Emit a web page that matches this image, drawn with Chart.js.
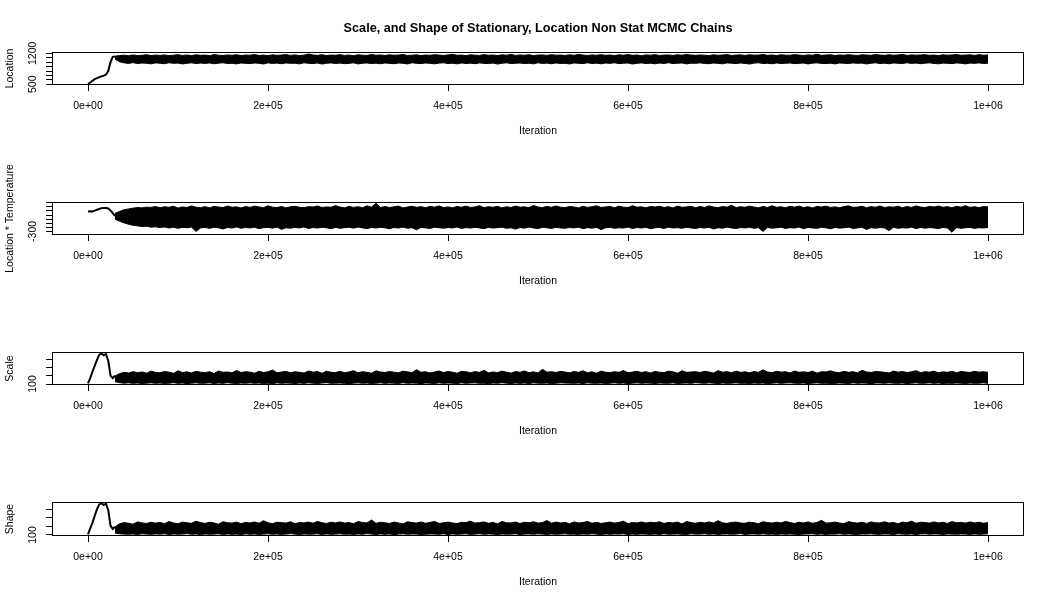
<!DOCTYPE html>
<html><head><meta charset="utf-8">
<script src="https://cdn.jsdelivr.net/npm/chart.js@4/dist/chart.umd.min.js"></script>
<style>
html,body{margin:0;padding:0;background:#fff;}
#wrap{position:relative;width:1053px;height:601px;overflow:hidden;background:#fff;}
#wrap canvas{position:absolute;left:0;}
</style></head><body>
<div id="wrap">
<canvas id="c1" width="1053" height="150" style="top:0px"></canvas>
<canvas id="c2" width="1053" height="150" style="top:150px"></canvas>
<canvas id="c3" width="1053" height="150" style="top:300px"></canvas>
<canvas id="c4" width="1053" height="151" style="top:450px"></canvas>
</div>
<script>
// ---------- DATA (iterations in thousands) ----------
const TITLE = "Scale, and Shape of Stationary, Location Non Stat MCMC Chains";
const xTicks = [0, 200000, 400000, 600000, 800000, 1000000];
const burnIter = [0,2.5,5,7.5,10,12.5,15,17.5,20,22.5,25,27.5,30];
const bandIter = [
30,35,40,45,50,55,60,65,70,75,
80,85,90,95,100,105,110,115,120,125,
130,135,140,145,150,155,160,165,170,175,
180,185,190,195,200,205,210,215,220,225,
230,235,240,245,250,255,260,265,270,275,
280,285,290,295,300,305,310,315,320,325,
330,335,340,345,350,355,360,365,370,375,
380,385,390,395,400,405,410,415,420,425,
430,435,440,445,450,455,460,465,470,475,
480,485,490,495,500,505,510,515,520,525,
530,535,540,545,550,555,560,565,570,575,
580,585,590,595,600,605,610,615,620,625,
630,635,640,645,650,655,660,665,670,675,
680,685,690,695,700,705,710,715,720,725,
730,735,740,745,750,755,760,765,770,775,
780,785,790,795,800,805,810,815,820,825,
830,835,840,845,850,855,860,865,870,875,
880,885,890,895,900,905,910,915,920,925,
930,935,940,945,950,955,960,965,970,975,
980,985,990,995,1000];

// Panel 1: Location
const locTicks = [500,600,700,800,900,1000,1100,1200];
const locShown = [500,1200];
const locBurn = [505,540,580,615,640,662,680,697,720,800,1000,1120,1130];
const locUp = [
1135,1150,1158,1146,1162,1150,1155,1168,1149,1160,
1153,1165,1147,1158,1170,1152,1161,1149,1166,1155,
1160,1148,1172,1157,1151,1163,1156,1169,1150,1161,
1158,1174,1152,1160,1147,1166,1155,1162,1171,1153,
1164,1150,1159,1185,1162,1154,1168,1149,1160,1157,
1170,1153,1161,1148,1166,1159,1152,1175,1157,1163,
1150,1167,1156,1161,1173,1152,1158,1166,1149,1162,
1155,1169,1160,1151,1164,1177,1156,1160,1148,1167,
1159,1153,1171,1157,1162,1150,1166,1158,1174,1152,
1163,1156,1168,1149,1160,1165,1153,1170,1158,1161,
1151,1167,1155,1176,1160,1152,1163,1157,1169,1154,
1161,1150,1166,1158,1172,1155,1162,1148,1165,1159,
1170,1153,1160,1164,1151,1168,1157,1175,1160,1154,
1163,1158,1149,1167,1156,1162,1171,1153,1160,1166,
1152,1169,1158,1161,1174,1155,1163,1150,1167,1159,
1156,1172,1160,1153,1165,1158,1178,1154,1162,1168,
1150,1163,1157,1170,1159,1152,1166,1161,1155,1173,
1160,1154,1168,1157,1163,1176,1152,1165,1159,1162,
1170,1155,1161,1149,1167,1158,1164,1172,1156,1160,
1166,1153,1169,1158,1162];
const locLo = [
1070,1010,985,972,990,968,981,975,962,984,
977,966,988,973,980,960,976,985,969,979,
972,983,964,978,987,970,975,961,982,974,
968,980,976,959,985,971,979,966,983,973,
977,962,986,974,969,981,958,975,984,970,
979,967,973,985,961,976,982,969,978,964,
983,972,966,980,975,960,987,973,968,981,
974,963,979,985,970,976,962,982,971,978,
966,984,973,969,980,957,976,985,970,974,
981,968,977,962,986,972,979,965,983,970,
975,960,982,974,968,985,971,978,963,980,
973,986,967,976,981,959,975,984,970,977,
964,979,972,987,969,976,982,961,978,973,
985,970,966,980,974,963,983,977,968,981,
972,958,979,986,971,975,964,982,970,976,
983,967,974,980,961,978,985,972,969,977,
962,981,975,968,984,973,979,960,976,986,
970,977,964,982,975,969,987,972,980,966,
978,985,971,963,979,974,968,983,976,961,
980,973,984,970,977];

// Panel 2: Location * Temperature
const ltTicks = [-300,-250,-200,-150,-100,-50,0,50];
const ltShown = [-300];
const ltBurn = [-55,-53,-55,-45,-35,-25,-15,-12,-14,-20,-45,-75,-110];
const ltUp = [
-80,-55,-35,-25,-15,-8,-12,-3,-6,5,
-10,2,-5,8,-14,0,-7,12,-4,-9,
3,-11,6,-2,-8,10,-5,1,-13,4,
-6,9,-1,-10,14,-3,-8,5,-12,2,
7,-5,-9,3,-1,11,-7,0,-4,16,
-2,-11,6,-6,2,-9,13,-3,45,-8,
4,-7,1,10,-12,-2,8,-5,3,-10,
6,-3,12,-8,0,-11,5,-4,9,-6,
-1,14,-9,3,-5,7,-12,2,-7,10,
-4,1,-10,18,-2,-8,6,-5,11,-3,
-9,4,-1,-12,8,-6,2,13,-7,0,
5,-10,9,-3,-8,15,-4,1,-11,6,
-2,8,-7,3,-13,10,-5,0,7,-9,
4,-6,12,-1,-10,6,-3,20,-8,2,
-5,9,-2,-11,5,-7,14,-4,1,-9,
7,-3,10,-8,2,-12,6,-1,9,-6,
0,-10,4,13,-5,-2,8,-9,3,-4,
11,-7,1,-3,9,-11,5,-6,12,-2,
-8,6,-1,10,-5,3,-10,7,-3,15,
-6,2,-9,5,0];
const ltLo = [
-150,-175,-195,-212,-225,-232,-240,-236,-248,-244,
-252,-246,-258,-249,-262,-251,-255,-247,-300,-258,
-250,-263,-248,-256,-270,-252,-259,-246,-261,-253,
-257,-249,-266,-254,-251,-260,-247,-275,-255,-262,
-250,-258,-245,-264,-253,-259,-248,-256,-267,-251,
-262,-254,-249,-260,-246,-257,-265,-252,-258,-250,
-256,-268,-251,-259,-247,-262,-254,-280,-250,-257,
-263,-249,-255,-261,-252,-258,-246,-264,-253,-259,
-250,-257,-266,-251,-259,-254,-248,-262,-256,-272,
-253,-260,-247,-258,-265,-250,-256,-263,-249,-258,
-261,-252,-257,-248,-266,-254,-260,-251,-278,-256,
-249,-262,-255,-259,-247,-264,-253,-258,-250,-267,
-256,-251,-263,-248,-258,-254,-261,-250,-257,-265,
-252,-259,-249,-270,-255,-261,-247,-258,-264,-253,
-257,-250,-262,-255,-300,-251,-260,-256,-248,-263,
-254,-259,-247,-266,-252,-258,-262,-249,-256,-268,
-251,-260,-255,-248,-263,-257,-250,-276,-254,-261,
-253,-258,-290,-250,-262,-255,-259,-248,-265,-252,
-260,-254,-257,-266,-251,-259,-310,-253,-262,-256,
-250,-263,-255,-258,-252];

// Panel 3: Scale
const scTicks = [100,150,200,250];
const scShown = [100];
const scBurn = [104,135,175,210,245,276,282,272,280,240,150,135,150];
const scUp = [
148,162,170,166,174,168,172,165,177,170,
167,175,171,164,179,169,173,166,176,171,
168,174,163,178,170,172,167,181,169,174,
171,165,176,169,173,184,167,172,175,168,
173,170,166,178,171,175,164,177,170,169,
176,168,172,180,167,174,170,165,179,172,
169,175,171,167,177,173,168,186,170,174,
166,172,178,169,175,171,164,176,173,168,
174,170,182,167,172,169,177,171,165,175,
170,178,168,173,166,188,171,174,169,176,
172,167,175,170,179,168,173,165,177,171,
168,174,170,181,167,172,176,169,174,166,
175,171,168,177,173,165,179,170,172,174,
169,176,172,166,180,171,174,168,177,170,
173,167,175,170,185,172,168,176,171,174,
166,178,170,173,169,177,165,174,172,179,
171,168,176,170,174,167,182,172,169,175,
173,170,166,178,171,175,169,173,180,168,
174,171,177,167,173,170,176,168,175,172,
169,176,171,174,170];
const scLo = [
114,108,105,107,104,106,103,105,107,104,
106,103,105,108,104,106,102,105,107,104,
105,107,103,106,104,108,105,103,106,104,
107,104,106,103,105,102,107,104,106,105,
103,106,104,107,105,103,106,108,104,105,
106,104,102,105,107,104,106,103,105,107,
104,106,105,103,108,104,106,105,102,106,
105,103,107,104,106,105,103,107,104,106,
107,104,105,102,106,104,108,105,103,106,
104,106,103,107,105,104,106,102,105,107,
106,105,104,106,103,107,105,104,106,103,
105,107,104,106,102,105,107,104,106,105,
103,106,105,104,107,103,105,106,104,108,
106,104,107,105,103,106,104,105,107,104,
105,103,106,104,106,102,105,107,104,106,
107,105,104,106,103,105,107,104,105,103,
104,106,105,103,107,104,106,105,102,106,
106,104,107,105,104,106,103,105,107,104,
105,107,104,106,103,105,104,106,105,103,
106,104,105,107,104];

// Panel 4: Shape
const shTicks = [100,150,200,250];
const shShown = [100];
const shBurn = [104,138,172,212,250,278,285,274,282,245,155,135,148];
const shUp = [
146,165,172,168,163,176,170,167,174,169,
173,166,178,170,165,175,171,168,180,172,
167,174,170,163,177,171,169,175,166,173,
170,176,168,183,171,166,174,172,169,177,
165,173,170,175,168,179,171,167,174,170,
176,169,172,166,178,173,170,187,168,174,
171,167,175,170,164,177,172,169,176,168,
173,179,167,171,175,170,166,174,172,181,
169,172,176,168,173,165,178,171,170,175,
167,174,171,177,169,172,184,168,175,170,
173,166,176,170,172,179,168,174,167,171,
175,169,173,180,166,172,170,176,169,174,
171,177,167,173,170,175,164,178,172,168,
174,170,176,169,183,171,167,173,175,170,
168,175,171,166,177,172,169,174,170,179,
172,167,174,170,176,168,173,185,169,171,
175,170,166,178,172,169,174,167,176,171,
170,177,169,173,165,175,171,180,168,174,
172,169,176,170,174,167,178,171,173,169,
176,170,174,168,172];
const shLo = [
112,107,105,104,106,103,107,105,104,106,
105,107,103,106,104,105,108,104,106,103,
106,104,105,107,103,106,104,105,102,107,
104,106,103,105,107,104,106,103,105,108,
105,103,106,104,105,107,103,106,104,105,
107,104,105,103,106,104,108,105,103,106,
104,106,102,105,107,104,106,105,103,104,
106,105,104,107,103,106,104,105,107,103,
105,107,104,106,105,102,106,104,105,107,
103,105,106,104,107,105,103,106,104,105,
107,104,105,103,106,104,107,105,102,106,
104,106,105,107,103,105,104,106,105,103,
106,103,107,104,105,106,104,103,107,105,
105,107,104,106,103,105,106,104,105,108,
103,105,106,104,107,104,105,103,106,104,
106,104,103,105,106,107,104,106,103,105,
105,107,104,106,104,103,106,105,107,104,
104,106,105,103,107,105,104,106,103,106,
107,104,106,105,103,106,105,104,106,105,
103,106,104,105,107];

// ---------- RENDERING ----------
const FONT = '"Liberation Sans", Arial, Helvetica, sans-serif';
Chart.defaults.font.family = FONT;
Chart.defaults.font.size = 10.5;
Chart.defaults.color = '#000';

const mctx = document.createElement('canvas').getContext('2d');
mctx.font = '10.5px ' + FONT;

function fmtExp(v) {
  return Number(v).toExponential().replace(/e([+-])(\d)$/, (m, s, d) => 'e' + s + '0' + d);
}

function makePanel(id, o) {
  const widest = Math.max(...o.shown.map(v => mctx.measureText(String(v)).width));
  const pad = Math.max(0, 52 - 6 - widest / 2 - 33);
  const boxPlugin = {
    id: 'boxAndTitle',
    afterDraw(chart) {
      const ctx = chart.ctx, a = chart.chartArea;
      ctx.save();
      ctx.strokeStyle = '#000';
      ctx.lineWidth = 1;
      ctx.strokeRect(Math.round(a.left) + 0.5, Math.round(a.top) + 0.5,
                     Math.round(a.right - a.left) - 1, Math.round(a.bottom - a.top) - 1);
      ctx.translate(10, (a.top + a.bottom) / 2);
      ctx.rotate(-Math.PI / 2);
      ctx.fillStyle = '#000';
      ctx.font = '10.5px ' + FONT;
      ctx.textAlign = 'center';
      ctx.textBaseline = 'middle';
      ctx.fillText(o.yTitle, 0, 0);
      ctx.restore();
    }
  };
  const pts = (xs, ys) => xs.map((k, i) => ({x: k * 1000, y: ys[i]}));
  return new Chart(document.getElementById(id), {
    type: 'line',
    data: {datasets: [
      {data: pts(bandIter, o.up), borderColor: '#000', borderWidth: 1, pointRadius: 0, fill: false, tension: 0},
      {data: pts(bandIter, o.lo), borderColor: '#000', borderWidth: 1, pointRadius: 0, fill: '-1', backgroundColor: '#000', tension: 0},
      {data: pts(burnIter, o.burn), borderColor: '#000', borderWidth: 2, pointRadius: 0, fill: false, tension: 0}
    ]},
    options: {
      responsive: false, animation: false, devicePixelRatio: 1, events: [],
      layout: {padding: {left: 0, right: 29, top: o.title ? 0 : 52, bottom: 0}},
      plugins: {
        legend: {display: false}, tooltip: {enabled: false},
        title: o.title ? {display: true, text: TITLE, fullSize: false, color: '#000',
          font: {size: 12.7, weight: 'bold'}, padding: {top: 21, bottom: 15.76}} : {display: false}
      },
      scales: {
        x: {
          type: 'linear', min: -40000, max: 1040000,
          afterBuildTicks: s => { s.ticks = xTicks.map(v => ({value: v})); },
          ticks: {autoSkip: false, minRotation: 0, maxRotation: 0, padding: 9, callback: v => fmtExp(v)},
          grid: {drawOnChartArea: false, drawTicks: true, tickLength: 6, color: '#000'},
          border: {display: false},
          title: {display: true, text: 'Iteration', padding: {top: 0, bottom: 13}},
          afterFit: s => { s.height = 65; }
        },
        y: {
          type: 'linear', min: o.yMin, max: o.yMax,
          afterBuildTicks: s => { s.ticks = o.ticks.map(v => ({value: v})); },
          ticks: {autoSkip: false, minRotation: 90, maxRotation: 90, crossAlign: 'center', padding: pad,
            callback: v => o.shown.includes(v) ? String(v) : ''},
          grid: {drawOnChartArea: false, drawTicks: true, tickLength: 6, color: '#000'},
          border: {display: false},
          afterFit: s => { s.width = 52; }
        }
      }
    },
    plugins: [boxPlugin]
  });
}

makePanel('c1', {title: true, yTitle: 'Location', yMin: 484, yMax: 1230, ticks: locTicks, shown: locShown, burn: locBurn, up: locUp, lo: locLo});
makePanel('c2', {title: false, yTitle: 'Location * Temperature', yMin: -344, yMax: 60, ticks: ltTicks, shown: ltShown, burn: ltBurn, up: ltUp, lo: ltLo});
makePanel('c3', {title: false, yTitle: 'Scale', yMin: 94, yMax: 292, ticks: scTicks, shown: scShown, burn: scBurn, up: scUp, lo: scLo});
makePanel('c4', {title: false, yTitle: 'Shape', yMin: 94, yMax: 292, ticks: shTicks, shown: shShown, burn: shBurn, up: shUp, lo: shLo});
</script>
</body></html>
